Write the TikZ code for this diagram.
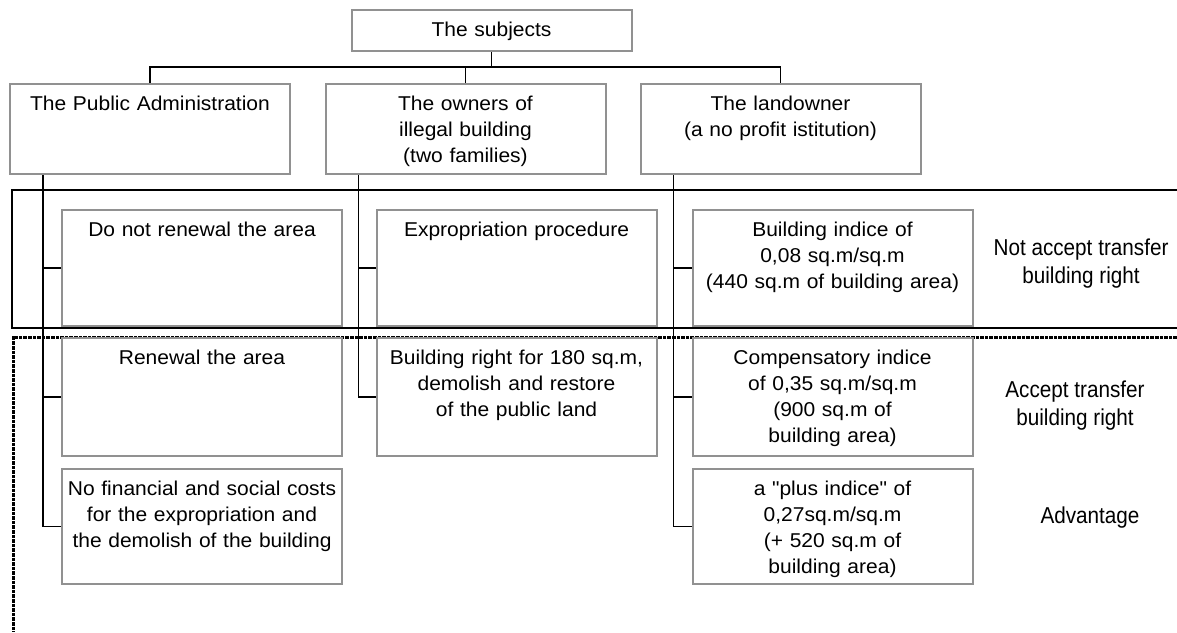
\documentclass[tikz,border=0pt]{standalone}
\usepackage{fontspec}
\setmainfont{Liberation Sans}[FakeStretch=1.05,Ligatures=TeXOff]
\newfontfamily\narrowfont{Liberation Sans}[FakeStretch=0.9]
\definecolor{boxgray}{RGB}{145,145,145}

\tikzset{
  box/.style={draw=boxgray, line width=1pt, minimum width=140pt, text width=136pt,
    inner xsep=2pt, inner ysep=6pt, align=center, text height=7.2pt,
    font=\fontsize{10}{13}\selectfont},
  side/.style={align=center, font=\narrowfont\fontsize{11.5}{14}\selectfont},
  link/.style={line width=0.75pt},
  frame/.style={line width=1pt},
  dotframe/.style={line width=1.5pt, dash pattern=on 1.8pt off 0.5pt}
}

\begin{document}
\begin{tikzpicture}[x=0.5pt,y=-0.5pt]
	\useasboundingbox (0,0) rectangle (1177,632);
	% the two bands
	\draw[frame] (1177,190) -- (12,190) -- (12,328) -- (1177,328);
	\draw[dotframe] (1177,337) -- (13,337) -- (13,632);
	% subjects
	\node[box, text depth=1.3pt] (sub) at (491.5,30.5) {The subjects};
	\node[box, text depth=25.8pt] (pa) at (150,129) {The Public Administration};
	\node[box, text depth=25.8pt] (ow) at (465.5,129) {The owners of\\illegal building\\(two families)};
	\node[box, text depth=25.8pt] (lo) at (780.5,129) {The landowner\\(a no profit istitution)};
	\coordinate (bus) at (0,67);
	\draw[link] (sub.south) -- (sub.south |- bus);
	\draw[link] (pa.north) -- (pa.north |- bus) -- (lo.north |- bus) -- (lo.north);
	\draw[link] (ow.north) -- (ow.north |- bus);
	% not accept
	\node[box, text depth=38.8pt] (pa_1) at (202,268) {Do not renewal the area};
	\node[box, text depth=38.8pt] (ow_1) at (516.5,268) {Expropriation procedure};
	\node[box, text depth=38.8pt] (lo_1) at (832.5,268) {Building indice of\\0,08 sq.m/sq.m\\(440 sq.m of building area)};
	% accept
	\node[box, text depth=39.8pt] (pa_2) at (202,397) {Renewal the area};
	\node[box, text depth=39.8pt] (ow_2) at (516.5,397) {Building right for 180 sq.m,\\demolish and restore\\of the public land};
	\node[box, text depth=39.8pt] (lo_2) at (832.5,397) {Compensatory indice\\of 0,35 sq.m/sq.m\\(900 sq.m of\\building area)};
	% advantage
	\node[box, text depth=38.3pt] (pa_3) at (202,526.5) {No financial and social costs\\for the expropriation and\\the demolish of the building};
	\node[box, text depth=38.3pt] (lo_3) at (832.5,526.5) {a "plus indice" of\\0,27sq.m/sq.m\\(+ 520 sq.m of\\building area)};
	% side labels
	\node[side] (r_1) at (1081,264) {Not accept transfer\\building right};
	\node[side] (r_2) at (1075,406) {Accept transfer\\building right};
	\node[side] (r_3) at (1090,518) {Advantage};
	% branches
	\coordinate (pa_v) at ([xshift=17pt]pa.south west);
	\coordinate (ow_v) at ([xshift=17pt]ow.south west);
	\coordinate (lo_v) at ([xshift=17pt]lo.south west);
	\draw[link] (pa_v) |- (pa_3.west);
	\draw[link] (pa_1.west) -- (pa_1.west -| pa_v);
	\draw[link] (pa_2.west) -- (pa_2.west -| pa_v);
	\draw[link] (ow_v) |- (ow_2.west);
	\draw[link] (ow_1.west) -- (ow_1.west -| ow_v);
	\draw[link] (lo_v) |- (lo_3.west);
	\draw[link] (lo_1.west) -- (lo_1.west -| lo_v);
	\draw[link] (lo_2.west) -- (lo_2.west -| lo_v);
\end{tikzpicture}
\end{document}
